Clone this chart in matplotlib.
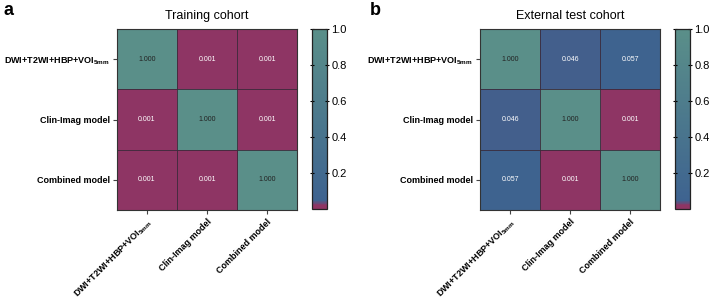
import matplotlib
matplotlib.use("Agg")
import matplotlib.pyplot as plt
from matplotlib.colors import LinearSegmentedColormap
import numpy as np

plt.rcParams['font.family'] = ['Liberation Sans', 'DejaVu Sans']
plt.rcParams['mathtext.fontset'] = 'custom'
plt.rcParams['mathtext.rm'] = 'Liberation Sans'
plt.rcParams['mathtext.bf'] = 'Liberation Sans:bold'

# model names
models = [r'DWI+T2WI+HBP+VOI$_{\mathbf{5mm}}$', 'Clin-Imag model', 'Combined model']

# p-value matrices (DeLong)
train_p = [[1.000, 0.001, 0.001],
           [0.001, 1.000, 0.001],
           [0.001, 0.001, 1.000]]
test_p = [[1.000, 0.046, 0.057],
          [0.046, 1.000, 0.001],
          [0.057, 0.001, 1.000]]

titles = ['Training cohort', 'External test cohort']
panel_tags = ['a', 'b']

cmap = LinearSegmentedColormap.from_list(
    'pcm', [(0.0, '#8e3564'), (0.02, '#8e3564'), (0.045, '#3e6390'),
            (1.0, '#5a8f89')])

fig = plt.figure(figsize=(7.09, 2.98), dpi=100)

hm_boxes = [[0.165, 0.295, 0.254, 0.607], [0.677, 0.295, 0.254, 0.607]]
cb_boxes = [[0.440, 0.298, 0.021, 0.604], [0.952, 0.298, 0.021, 0.604]]
tag_x = [0.005, 0.522]

for k, mat in enumerate([train_p, test_p]):
    m = np.array(mat)
    ax = fig.add_axes(hm_boxes[k])
    im = ax.imshow(m, cmap=cmap, vmin=0, vmax=1, aspect='auto')
    # cell borders
    for i in range(1, 3):
        ax.axhline(i - 0.5, color='#3a2a3a', lw=0.6)
        ax.axvline(i - 0.5, color='#3a2a3a', lw=0.6)
    for i in range(3):
        for j in range(3):
            c = '#222222' if m[i, j] > 0.5 else 'white'
            ax.text(j, i, '%.3f' % m[i, j], ha='center', va='center',
                    fontsize=5, color=c)
    ax.set_xticks(range(3))
    ax.set_yticks(range(3))
    ax.set_xticklabels(models, rotation=45, ha='right', rotation_mode='anchor',
                       fontsize=6.5, fontweight='bold')
    ax.set_yticklabels(models, fontsize=6.5, fontweight='bold')
    ax.tick_params(length=3, width=0.8, color='#444444', pad=2)
    for s in ax.spines.values():
        s.set_color('#333333')
        s.set_linewidth(0.8)
    ax.set_title(titles[k], fontsize=9, pad=7)

    cax = fig.add_axes(cb_boxes[k])
    cb = fig.colorbar(im, cax=cax)
    cb.set_ticks([0.2, 0.4, 0.6, 0.8, 1.0])
    cb.ax.tick_params(labelsize=8, length=2.5, width=0.8, right=True, left=True,
                      direction='inout', pad=2)
    cb.outline.set_linewidth(0.9)
    cb.outline.set_edgecolor('#222222')

    fig.text(tag_x[k], 0.965, panel_tags[k], fontsize=13, fontweight='bold',
             va='center')

fig.savefig('out.png', dpi=100)
